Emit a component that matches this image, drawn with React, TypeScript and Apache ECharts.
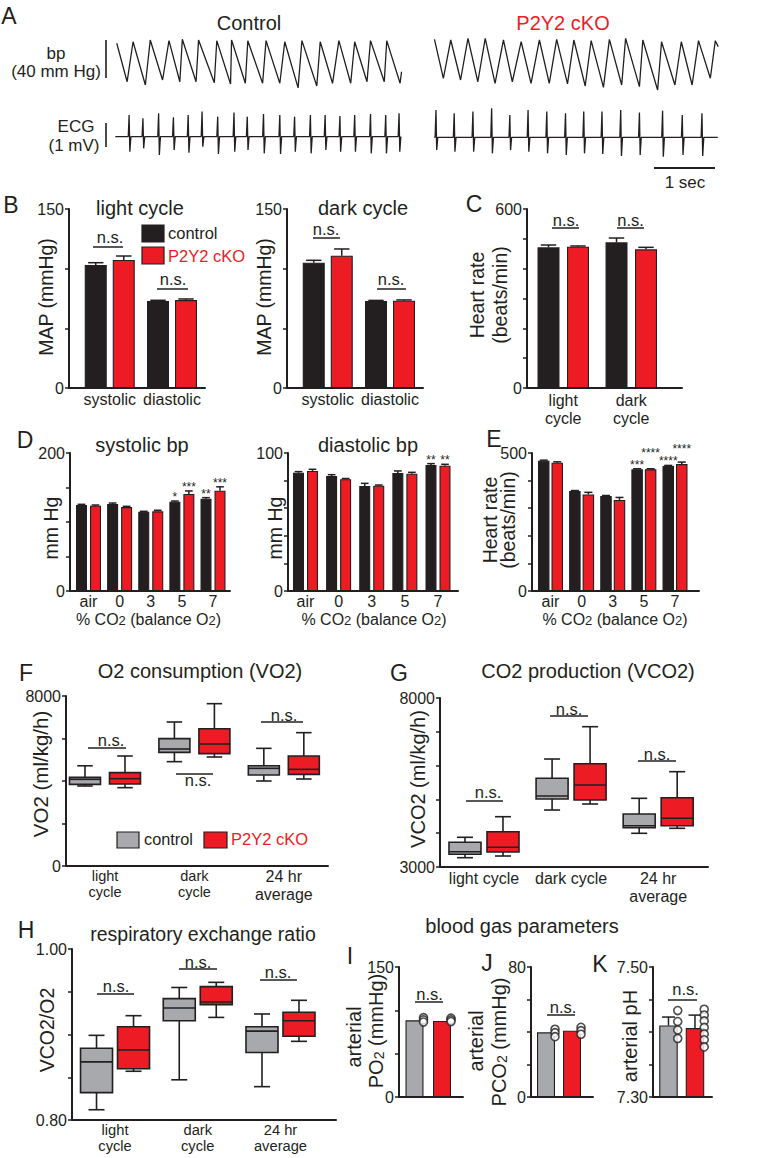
import React, { useEffect, useRef } from "react";
import * as echarts from "echarts";

const FONT = "'Liberation Sans', Arial, Helvetica, sans-serif";
const INK = "#231f20";
const RED = "#ed1c24";
const GRAY = "#a7a9ac";

// ---------------- A: example traces (turning points) ----------------
const bpControlTime = [0.024, 0.195, 0.293, 0.496, 0.577, 0.78, 0.886, 1.065, 1.106, 1.333, 1.374, 1.634, 1.675, 1.902, 1.919, 2.146, 2.187, 2.431, 2.488, 2.715, 2.797, 3.017, 3.08, 3.325, 3.382, 3.585, 3.69, 3.885, 3.951, 4.154, 4.212, 4.439, 4.48, 4.7, 4.724];
const bpControlValue = [121.5, 81.6, 123.1, 78.2, 124.9, 83.4, 124.2, 81.6, 125.6, 81.6, 124.9, 80.6, 124.2, 79.3, 124.9, 80, 124.2, 80, 124.2, 80, 123.1, 75.2, 124.2, 77.2, 123.1, 80, 124.2, 80, 123.1, 81.6, 124.2, 81.6, 124.2, 80, 92];
const bpKoTime = [0.024, 0.171, 0.293, 0.455, 0.577, 0.74, 0.862, 1.024, 1.163, 1.309, 1.455, 1.618, 1.756, 1.919, 2.041, 2.22, 2.325, 2.512, 2.61, 2.813, 2.911, 3.114, 3.179, 3.407, 3.463, 3.707, 3.772, 3.992, 4.098, 4.276, 4.382, 4.577, 4.659, 4.707];
const bpKoValue = [125.6, 85.2, 124.9, 83.4, 126.6, 81.6, 126.6, 80, 124.9, 81.6, 123.1, 80, 124.9, 80, 125.6, 79.3, 124.9, 77.2, 124.2, 75.8, 125.6, 78.2, 126.6, 76.5, 124.9, 73, 123.1, 78.2, 123.1, 78.2, 124.2, 85.2, 124.2, 118];

const ecgControlTime = [0.228, 0.456, 0.715, 0.959, 1.203, 1.432, 1.69, 1.959, 2.178, 2.446, 2.715, 2.959, 3.22, 3.463, 3.707, 3.951, 4.212, 4.463, 4.683];
const ecgControlUp = [0.81, 0.67, 0.88, 0.71, 0.81, 0.95, 0.74, 0.91, 0.74, 0.85, 0.81, 0.74, 0.81, 0.81, 0.77, 0.81, 0.85, 0.81, 0.88];
const ecgControlDown = [-0.72, -0.58, -0.86, -0.65, -0.76, -0.51, -0.82, -0.72, -0.65, -0.79, -0.82, -0.72, -0.79, -0.65, -0.72, -0.72, -0.79, -0.79, -0.72];
const ecgControlBaseline = -0.09;
const ecgKoTime = [0.049, 0.35, 0.659, 0.968, 1.268, 1.569, 1.878, 2.187, 2.488, 2.789, 3.098, 3.407, 3.789, 4.114, 4.439];
const ecgKoUp = [1.02, 0.88, 0.95, 1.09, 0.81, 1.02, 0.95, 0.88, 0.95, 0.95, 1.02, 0.91, 0.99, 0.81, 0.88];
const ecgKoDown = [-0.65, -0.72, -0.72, -0.79, -0.65, -0.72, -0.79, -0.86, -0.79, -0.82, -0.9, -0.86, -0.93, -0.86, -0.9];
const ecgKoBaseline = -0.12;

// ---------------- B: MAP ----------------
const mapCategories = ["systolic", "diastolic"];
const mapLightControl = [103.1, 72.9];
const mapLightControlErr = [1.9, 0.6];
const mapLightKo = [107.3, 73.7];
const mapLightKoErr = [3.3, 0.9];
const mapDarkControl = [105.0, 72.9];
const mapDarkControlErr = [2.0, 0.5];
const mapDarkKo = [110.9, 73.2];
const mapDarkKoErr = [5.6, 0.6];

// ---------------- C: heart rate ----------------
const hrCategories = ["light\ncycle", "dark\ncycle"];
const hrControl = [471.5, 488.2];
const hrControlErr = [7.8, 14.5];
const hrKo = [473.7, 464.8];
const hrKoErr = [2.3, 6.7];

// ---------------- D / E: CO2 challenge ----------------
const co2Categories = ["air", "0", "3", "5", "7"];
const sysControl = [124.6, 126.0, 115.0, 129.4, 133.8];
const sysControlErr = [1, 1.5, 0.5, 1, 1.5];
const sysKo = [123.6, 121.7, 115.5, 140.6, 145.4];
const sysKoErr = [1, 1, 1.5, 4.4, 5.6];
const sysControlStars = ["", "", "", "*", "**"];
const sysKoStars = ["", "", "", "***", "***"];
const diaControl = [85.7, 83.3, 76.0, 85.5, 91.3];
const diaControlErr = [0.8, 1, 2, 1.5, 1];
const diaKo = [87.0, 81.0, 76.3, 85.0, 90.8];
const diaKoErr = [1.2, 0.5, 0.5, 1, 1];
const diaControlStars = ["", "", "", "", "**"];
const diaKoStars = ["", "", "", "", "**"];
const hrCo2Control = [472, 362, 344, 441, 453];
const hrCo2ControlErr = [2, 2, 2, 2, 2];
const hrCo2Ko = [465, 350, 330, 441, 460];
const hrCo2KoErr = [3, 7.5, 9, 2, 7];
const hrCo2ControlStars = ["", "", "", "***", "****"];
const hrCo2KoStars = ["", "", "", "****", "****"];

// ---------------- F / G / H: metabolic boxes [min, Q1, median, Q3, max] ----------------
const metabCategories = ["light\ncycle", "dark\ncycle", "24 hr\naverage"];
const vco2Categories = ["light cycle", "dark cycle", "24 hr\naverage"];
const vo2Control = [[3765, 3843, 4078, 4172, 4716], [4910, 5349, 5506, 5992, 6776], [4000, 4282, 4596, 4716, 5537]];
const vo2Ko = [[3686, 3859, 4110, 4392, 5176], [5129, 5286, 5741, 6462, 7639], [4094, 4314, 4549, 5176, 6275]];
const vco2Control = [[3275, 3376, 3453, 3731, 3879], [4686, 5012, 5100, 5624, 6195], [3997, 4163, 4222, 4568, 5032]];
const vco2Ko = [[3325, 3444, 3583, 4044, 4488], [4864, 4982, 5426, 6056, 7151], [4145, 4222, 4441, 5051, 5820]];
const rerControl = [[0.812, 0.832, 0.868, 0.884, 0.899], [0.847, 0.916, 0.931, 0.942, 0.955], [0.839, 0.879, 0.904, 0.909, 0.924]];
const rerKo = [[0.857, 0.86, 0.882, 0.909, 0.922], [0.92, 0.935, 0.938, 0.956, 0.961], [0.892, 0.898, 0.916, 0.926, 0.94]];

// ---------------- I / J / K: blood gas ----------------
const po2Control = [88.5];
const po2Ko = [87.7];
const po2ControlPoints = [91.5, 89, 86.5];
const po2KoPoints = [91, 89, 87];
const pco2Control = [39.8];
const pco2Ko = [40.8];
const pco2ControlPoints = [41.7, 39.6, 37.1];
const pco2KoPoints = [42.9, 40.8, 38.6];
const phControl = [7.41];
const phControlErr = [0.013];
const phKo = [7.406];
const phKoErr = [0.02];
const phControlPoints = [7.433, 7.416, 7.403, 7.39];
const phKoPoints = [7.435, 7.426, 7.417, 7.407, 7.397, 7.388, 7.377];

function buildOption() {
  const grid: any[] = [];
  const xAxis: any[] = [];
  const yAxis: any[] = [];
  const series: any[] = [];
  const graphic: any[] = [];

  const txt = (text: string, x: number, y: number, o: any = {}) =>
    graphic.push({
      type: "text", x, y, rotation: o.rot || 0, silent: true, z: 10,
      style: {
        text, fill: o.color || INK, fontSize: o.size || 16, fontFamily: FONT,
        align: o.align || "center", verticalAlign: "middle", rich: o.rich,
      },
    });
  const seg = (x1: number, y1: number, x2: number, y2: number, w = 1.5) =>
    graphic.push({ type: "line", silent: true, z: 10, shape: { x1, y1, x2, y2 }, style: { stroke: INK, lineWidth: w } });
  const rect = (x: number, y: number, w: number, h: number, fill: string) =>
    graphic.push({ type: "rect", silent: true, z: 10, shape: { x, y, width: w, height: h }, style: { fill, stroke: INK, lineWidth: 1.2 } });
  const ns = (cx: number, ty: number, x1: number, x2: number, ly: number) => {
    txt("n.s.", cx, ty, { size: 16.5 });
    seg(x1, ly, x2, ly, 1.5);
  };
  const subRich = { s: { fontSize: 13, fontFamily: FONT, fill: INK, color: INK, verticalAlign: "bottom" } };

  const addGrid = (p: any) => {
    const i = grid.length;
    const [left, top, width, height] = p.box;
    grid.push({ left, top, width, height, containLabel: false, outerBoundsMode: "none", show: false });
    if (p.hidden) {
      xAxis.push({ gridIndex: i, type: "value", min: p.x[0], max: p.x[1], show: false });
      yAxis.push({ gridIndex: i, type: "value", min: p.y[0], max: p.y[1], show: false });
      return i;
    }
    const cats: string[] = p.cats || [];
    xAxis.push({
      gridIndex: i, type: "value", min: p.x[0], max: p.x[1],
      axisLine: { show: true, onZero: false, lineStyle: { color: INK, width: 2 } },
      axisTick: { show: false },
      splitLine: { show: false },
      axisLabel: {
        show: true, hideOverlap: false,
        customValues: cats.map((_, k) => k),
        formatter: (v: number) => (p.xFmt ? p.xFmt(Math.round(v)) : cats[Math.round(v)]),
        color: INK, fontFamily: FONT, fontSize: p.xSize || 16, lineHeight: p.xLine || 18,
        margin: p.xMargin ?? 2, rich: p.xRich,
      },
    });
    const [ymin, ymax] = p.y;
    const fmt = p.fmt || ((v: number) => String(v));
    yAxis.push({
      gridIndex: i, type: "value", min: ymin, max: ymax, interval: p.yInterval, startValue: ymin,
      axisLine: { show: true, onZero: false, lineStyle: { color: INK, width: 2 } },
      axisTick: { show: true, length: 4, lineStyle: { color: INK, width: 1.5 } },
      splitLine: { show: false },
      axisLabel: {
        color: INK, fontFamily: FONT, fontSize: 16, margin: 5, hideOverlap: false,
        formatter: (v: number) =>
          Math.abs(v - ymin) < 1e-6 || Math.abs(v - ymax) < 1e-6 ? fmt(v) : "",
      },
    });
    return i;
  };

  const STAR_SIZE = 12;
  const barPair = (gi: number, a: number[], aErr: number[], b: number[], bErr: number[], w: number, g: number, ctrlColor: string, aStars?: string[], bStars?: string[]) => {
    const off = (w * (1 + g)) / 2;
    [[a, ctrlColor], [b, RED]].forEach(([vals, color]: any) =>
      series.push({
        type: "bar", xAxisIndex: gi, yAxisIndex: gi, silent: true, z: 2,
        data: vals.map((v: number, k: number) => [k, v]),
        barWidth: w, barGap: g * 100 + "%",
        itemStyle: { color, borderColor: INK, borderWidth: 1.1 },
      })
    );
    const mk = (vals: number[], errs: number[], stars: string[] | undefined, dx: number, isKo: boolean) => ({
      type: "custom", xAxisIndex: gi, yAxisIndex: gi, silent: true, z: 3,
      data: vals.map((v, k) => [k, v, errs[k]]),
      renderItem: (params: any, api: any) => {
        const k = api.value(0), v = api.value(1), e = api.value(2);
        const p0 = api.coord([k, v]);
        const p1 = api.coord([k, v + e]);
        const cx = p0[0] + dx;
        const cw = (w * 0.7) / 2;
        const children: any[] = [];
        if (e > 0) {
          children.push({ type: "line", shape: { x1: cx, y1: p0[1], x2: cx, y2: p1[1] }, style: { stroke: INK, lineWidth: 1.5 } });
          children.push({ type: "line", shape: { x1: cx - cw, y1: p1[1], x2: cx + cw, y2: p1[1] }, style: { stroke: INK, lineWidth: 1.5 } });
        }
        const s = stars ? stars[params.dataIndex] : "";
        if (s) {
          let y = p1[1] + 2;
          if (isKo && aStars && aStars[params.dataIndex]) {
            const other = aStars[params.dataIndex];
            const overlap = ((other.length + s.length) / 2) * STAR_SIZE * 0.39 > 2 * off - 1;
            if (overlap) {
              const cy = api.coord([k, a[params.dataIndex] + aErr[params.dataIndex]])[1] + 2;
              y = Math.min(y, cy - 12);
            }
          }
          children.push({ type: "text", x: cx, y, style: { text: s, fill: INK, fontSize: STAR_SIZE, fontFamily: FONT, align: "center", verticalAlign: "bottom" } });
        }
        return { type: "group", children };
      },
    });
    series.push(mk(a, aErr, aStars, -off, false));
    series.push(mk(b, bErr, bStars, off, true));
    return off;
  };

  const points = (gi: number, vals: number[], dx: number) =>
    series.push({
      type: "scatter", xAxisIndex: gi, yAxisIndex: gi, silent: true, z: 5,
      data: vals.map((v) => [0, v]), symbol: "circle", symbolSize: 8, symbolOffset: [dx, 0],
      itemStyle: { color: "#fff", borderColor: INK, borderWidth: 1.6 },
    });

  const boxPair = (gi: number, ctrl: number[][], ko: number[][], bw: number, off: number) => {
    [[ctrl, GRAY, -off], [ko, RED, off]].forEach(([rows, color, dx]: any) =>
      series.push({
        type: "custom", xAxisIndex: gi, yAxisIndex: gi, silent: true, z: 2,
        encode: { x: 0, y: [1, 2, 3, 4, 5] },
        data: rows.map((r: number[], k: number) => [k, ...r]),
        renderItem: (params: any, api: any) => {
          const k = api.value(0);
          const Y = (d: number) => api.coord([k, api.value(d)])[1];
          const cx = api.coord([k, api.value(3)])[0] + dx;
          const hw = bw / 2, cw = bw / 4;
          const ln = (x1: number, y1: number, x2: number, y2: number) => ({ type: "line", shape: { x1, y1, x2, y2 }, style: { stroke: INK, lineWidth: 1.6 } });
          return {
            type: "group",
            children: [
              ln(cx, Y(5), cx, Y(4)),
              ln(cx, Y(2), cx, Y(1)),
              ln(cx - cw, Y(5), cx + cw, Y(5)),
              ln(cx - cw, Y(1), cx + cw, Y(1)),
              { type: "rect", shape: { x: cx - hw, y: Y(4), width: bw, height: Y(2) - Y(4) }, style: { fill: color, stroke: INK, lineWidth: 1.6 } },
              ln(cx - hw, Y(3), cx + hw, Y(3)),
            ],
          };
        },
      })
    );
  };

  // ================= A =================
  const tMax = 4.73;
  const gBpC = addGrid({ box: [115.3, 37, 286.6, 54], x: [0, tMax], y: [72, 128], hidden: true });
  const gBpK = addGrid({ box: [433, 37, 286.6, 54], x: [0, tMax], y: [72, 128], hidden: true });
  const gEcC = addGrid({ box: [115.3, 105.6, 286.6, 52.8], x: [0, tMax], y: [-1.0, 1.2], hidden: true });
  const gEcK = addGrid({ box: [433, 105.6, 286.6, 52.8], x: [0, tMax], y: [-1.0, 1.2], hidden: true });
  const traceLine = (gi: number, data: number[][]) =>
    series.push({ type: "line", xAxisIndex: gi, yAxisIndex: gi, silent: true, data, symbol: "none", showSymbol: false, lineStyle: { color: INK, width: 1.3 } });
  traceLine(gBpC, bpControlTime.map((t, i) => [t, bpControlValue[i]]));
  traceLine(gBpK, bpKoTime.map((t, i) => [t, bpKoValue[i]]));
  const ecgData = (times: number[], up: number[], down: number[], base: number, t0: number, t1: number) => {
    const pts: number[][] = [[t0, base]];
    times.forEach((t, i) => {
      pts.push([t - 0.014, base], [t, up[i]], [t + 0.012, down[i]], [t + 0.03, base]);
    });
    pts.push([t1, base]);
    return pts;
  };
  traceLine(gEcC, ecgData(ecgControlTime, ecgControlUp, ecgControlDown, ecgControlBaseline, 0.0, 4.71));
  traceLine(gEcK, ecgData(ecgKoTime, ecgKoUp, ecgKoDown, ecgKoBaseline, 0.02, 4.7));

  txt("A", 9, 16, { size: 23 });
  txt("Control", 249, 23, { size: 20 });
  txt("P2Y2 cKO", 563, 23, { size: 20, color: RED });
  txt("bp", 56, 53, { size: 17 });
  txt("(40 mm Hg)", 56, 71.5, { size: 17 });
  txt("ECG", 76, 126, { size: 17 });
  txt("(1 mV)", 74, 145, { size: 17 });
  seg(106, 40, 106, 78, 1.6);
  seg(106, 123, 106, 147, 1.6);
  seg(654, 168, 715, 168, 2);
  txt("1 sec", 685, 182, { size: 17 });

  // ================= B =================
  const bX = [-0.6546, 1.53];
  const gBL = addGrid({ box: [69, 209, 136, 179], x: bX, y: [0, 150], yInterval: 50, cats: mapCategories });
  barPair(gBL, mapLightControl, mapLightControlErr, mapLightKo, mapLightKoErr, 22, 0.2727, INK);
  const gBD = addGrid({ box: [287, 209, 136, 179], x: bX, y: [0, 150], yInterval: 50, cats: mapCategories });
  barPair(gBD, mapDarkControl, mapDarkControlErr, mapDarkKo, mapDarkKoErr, 22, 0.2727, INK);
  txt("B", 11, 205, { size: 23 });
  txt("light cycle", 140, 208, { size: 20 });
  txt("dark cycle", 363, 208, { size: 20 });
  rect(142, 225, 22, 17, INK);
  rect(142, 247, 22, 17, RED);
  txt("control", 168, 233, { size: 16.5, align: "left" });
  txt("P2Y2 cKO", 168, 255.5, { size: 16.5, align: "left", color: RED });
  txt("MAP (mmHg)", 46, 297, { size: 19.5, rot: Math.PI / 2 });
  txt("MAP (mmHg)", 264, 297, { size: 19.5, rot: Math.PI / 2 });
  ns(110, 236.5, 93, 123, 247);
  ns(173, 278.5, 157, 188, 289);
  ns(326, 228.5, 313, 340, 238);
  ns(391, 278.5, 377, 406, 289);

  // ================= C =================
  const gC = addGrid({ box: [527, 209, 155, 179], x: [-0.533, 1.746], y: [0, 600], yInterval: 100, cats: hrCategories, xMargin: 3 });
  barPair(gC, hrControl, hrControlErr, hrKo, hrKoErr, 22, 0.341, INK);
  txt("C", 474, 204, { size: 23 });
  txt("Heart rate", 477, 295, { size: 19.5, rot: Math.PI / 2 });
  txt("(beats/min)", 500, 295, { size: 19.5, rot: Math.PI / 2 });
  ns(566, 219.5, 552, 579, 228);
  ns(630.5, 219.5, 617, 644, 228);

  // ================= D =================
  const gDS = addGrid({ box: [70, 453, 160, 138], x: [-0.594, 4.546], y: [0, 200], yInterval: 50, cats: co2Categories, xMargin: 1.5 });
  barPair(gDS, sysControl, sysControlErr, sysKo, sysKoErr, 11, 0.2727, INK, sysControlStars, sysKoStars);
  const gDD = addGrid({ box: [288, 453, 170, 138], x: [-0.528, 4.604], y: [0, 100], yInterval: 20, cats: co2Categories, xMargin: 1.5 });
  barPair(gDD, diaControl, diaControlErr, diaKo, diaKoErr, 11, 0.2727, INK, diaControlStars, diaKoStars);
  txt("D", 25, 440, { size: 23 });
  txt("systolic bp", 142, 445, { size: 20 });
  txt("diastolic bp", 368, 445, { size: 20 });
  txt("mm Hg", 51, 528, { size: 19.5, rot: Math.PI / 2 });
  txt("mm Hg", 275, 528, { size: 19.5, rot: Math.PI / 2 });
  const co2Title = "% CO{s|2} (balance O{s|2})";
  txt(co2Title, 148.5, 619, { size: 16, rich: subRich });
  txt(co2Title, 374, 619, { size: 16, rich: subRich });

  // ================= E =================
  const gE = addGrid({ box: [532, 453, 167, 138], x: [-0.594, 4.771], y: [0, 500], yInterval: 100, cats: co2Categories, xMargin: 1.5 });
  barPair(gE, hrCo2Control, hrCo2ControlErr, hrCo2Ko, hrCo2KoErr, 11.5, 0.174, INK, hrCo2ControlStars, hrCo2KoStars);
  txt("E", 494, 439, { size: 23 });
  txt("Heart rate", 490, 520, { size: 19.5, rot: Math.PI / 2 });
  txt("(beats/min)", 508, 520, { size: 19.5, rot: Math.PI / 2 });
  txt(co2Title, 615, 619, { size: 16, rich: subRich });

  // ================= F =================
  const richAB = {
    a: { fontSize: 14.5, lineHeight: 16, fontFamily: FONT, color: INK },
    b: { fontSize: 16, lineHeight: 18, fontFamily: FONT, color: INK },
  };
  const gF = addGrid({
    box: [66, 696, 262, 170], x: [-0.436, 2.494], y: [0, 8000], yInterval: 2000, cats: metabCategories, xMargin: 1.5,
    xRich: richAB,
    xFmt: (k: number) => metabCategories[k].split("\n").map((s) => `{${k === 2 ? "b" : "a"}|${s}}`).join("\n"),
  });
  boxPair(gF, vo2Control, vo2Ko, 31, 20);
  txt("F", 26, 673, { size: 23 });
  txt("O2 consumption (VO2)", 200, 671, { size: 20 });
  txt("VO2 (ml/kg/h)", 40, 774, { size: 20.5, rot: Math.PI / 2 });
  rect(117, 832, 22, 16, GRAY);
  txt("control", 144, 839, { size: 16.3, align: "left" });
  rect(204, 832, 23, 16, RED);
  txt("P2Y2 cKO", 231, 839, { size: 16.5, align: "left", color: RED });
  ns(111, 739.5, 88, 126, 748);
  ns(198, 779.5, 176, 213, 774);
  ns(284, 714.5, 261, 303, 722);

  // ================= G =================
  const gG = addGrid({
    box: [440, 698, 268, 169], x: [-0.505, 2.572], y: [3000, 8000], yInterval: 1000, cats: vco2Categories, xMargin: 2, xLine: 18.5,
  });
  boxPair(gG, vco2Control, vco2Ko, 32, 19);
  txt("G", 399, 673, { size: 23 });
  txt("CO2 production (VCO2)", 588, 671, { size: 20 });
  txt("VCO2 (ml/kg/h)", 418, 779, { size: 20, rot: Math.PI / 2 });
  ns(488, 791.5, 466, 503, 801);
  ns(569, 708.5, 550, 588, 716);
  ns(657, 753.5, 638, 676, 761);

  // ================= H =================
  const gH = addGrid({
    box: [72, 949, 264, 171], x: [-0.52, 2.671], y: [0.8, 1.0], yInterval: 0.05, fmt: (v: number) => v.toFixed(2),
    cats: metabCategories, xMargin: 2, xSize: 14.7, xLine: 16,
  });
  boxPair(gH, rerControl, rerKo, 32, 18.5);
  txt("H", 26, 930, { size: 23 });
  txt("respiratory exchange ratio", 203, 934, { size: 19.5 });
  txt("VCO2/O2", 47, 1030, { size: 19.5, rot: Math.PI / 2 });
  ns(116, 985.5, 97, 134, 994);
  ns(198, 961.5, 179, 217, 969);
  ns(278, 972, 260, 297, 980);

  // ================= I / J / K =================
  txt("blood gas parameters", 522, 926, { size: 20 });
  const gI = addGrid({ box: [399, 967, 64, 130], x: [-0.457, 0.543], y: [0, 150], yInterval: 50 });
  const offI = barPair(gI, po2Control, [0], po2Ko, [0], 18, 0.528, GRAY);
  points(gI, po2ControlPoints, -offI + 9);
  points(gI, po2KoPoints, offI + 9);
  txt("I", 350, 956, { size: 23 });
  txt("arterial", 354, 1037, { size: 20, rot: Math.PI / 2 });
  txt("PO{s|2} (mmHg)", 376, 1031, { size: 20, rot: Math.PI / 2, rich: { s: { ...subRich.s, fontSize: 14 } } });
  ns(429.5, 993.5, 415, 443, 1002);

  const gJ = addGrid({ box: [531, 967, 62, 130], x: [-0.4375, 0.531], y: [0, 80], yInterval: 20 });
  const offJ = barPair(gJ, pco2Control, [0], pco2Ko, [0], 18, 0.444, GRAY);
  points(gJ, pco2ControlPoints, -offJ + 9);
  points(gJ, pco2KoPoints, offJ + 9);
  txt("J", 487, 963, { size: 23 });
  txt("arterial", 476, 1041, { size: 20, rot: Math.PI / 2 });
  txt("PCO{s|2} (mmHg)", 498.5, 1042, { size: 20, rot: Math.PI / 2, rich: { s: { ...subRich.s, fontSize: 14 } } });
  ns(563, 1006.5, 547, 575, 1015);

  const gK = addGrid({ box: [653, 967, 59, 130], x: [-0.449, 0.473], y: [7.3, 7.5], yInterval: 0.05, fmt: (v: number) => v.toFixed(2) });
  const offK = barPair(gK, phControl, phControlErr, phKo, phKoErr, 18.5, 0.432, GRAY);
  points(gK, phControlPoints, -offK + 9.25);
  points(gK, phKoPoints, offK + 9.25);
  txt("K", 600, 964, { size: 23 });
  txt("arterial pH", 630, 1036, { size: 20, rot: Math.PI / 2 });
  ns(685.5, 988.5, 668, 697, 1000);

  return {
    animation: false,
    backgroundColor: "#ffffff",
    textStyle: { fontFamily: FONT },
    grid, xAxis, yAxis, series, graphic,
  };
}

export default function App() {
  const ref = useRef<HTMLDivElement>(null);
  useEffect(() => {
    if (!ref.current) return;
    const chart = echarts.init(ref.current, undefined, { renderer: "svg" });
    chart.setOption(buildOption() as any);
    return () => chart.dispose();
  }, []);
  return (
    <div
      ref={ref}
      style={{ position: "absolute", left: 0, top: 0, width: 767, height: 1158, background: "#fff" }}
    />
  );
}
